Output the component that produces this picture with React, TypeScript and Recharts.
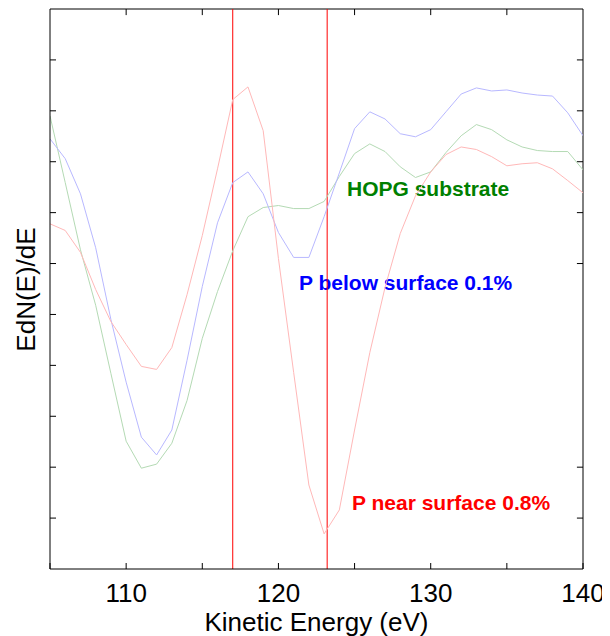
import React from 'react';
import { LineChart, Line, XAxis, YAxis, ReferenceLine, Customized } from 'recharts';

const energy = [105, 106, 107, 108, 109, 110, 111, 112, 113, 114, 115, 116, 117, 118, 119, 120, 121, 122, 123, 124, 125, 126, 127, 128, 129, 130, 131, 132, 133, 134, 135, 136, 137, 138, 139, 140];

const hopg = [8.9, 7.59, 6.27, 5.18, 3.84, 2.51, 1.98, 2.06, 2.47, 3.31, 4.53, 5.45, 6.25, 6.92, 7.1, 7.14, 7.08, 7.08, 7.22, 7.71, 8.16, 8.35, 8.2, 7.9, 7.69, 7.8, 8.18, 8.51, 8.73, 8.63, 8.43, 8.29, 8.22, 8.2, 8.2, 7.84];

const below = [8.45, 8.06, 7.37, 6.31, 4.9, 3.67, 2.59, 2.24, 2.73, 4.1, 5.55, 6.8, 7.59, 7.8, 7.37, 6.61, 6.12, 6.12, 6.92, 7.78, 8.65, 8.98, 8.84, 8.55, 8.49, 8.63, 8.98, 9.33, 9.45, 9.39, 9.41, 9.35, 9.31, 9.29, 8.96, 8.51];

const near = [6.78, 6.65, 6.22, 5.49, 4.86, 4.41, 3.98, 3.92, 4.35, 5.39, 6.55, 7.86, 9.22, 9.47, 8.61, 6.1, 3.86, 1.65, 0.69, 1.16, 2.73, 4.25, 5.53, 6.59, 7.33, 7.8, 8.14, 8.29, 8.24, 8.1, 7.92, 7.96, 7.98, 7.86, 7.63, 7.39];

const X_MIN = 105;
const X_MAX = 140;
const Y_MIN = 0;
const Y_MAX = 11;
const xTicks = [105, 110, 115, 120, 125, 130, 135, 140];
const xLabels = [110, 120, 130, 140];
const yTicksLeft = [1, 2, 3, 4, 5, 6, 7, 8, 9, 10];
const topTicks = [110, 115, 120, 125, 130, 135];
const yTicksRight = [1, 2, 6, 7, 8, 9, 10];
const markers = [117, 123.2];

// tick mark lengths expressed in axis units
const X_TICK_LEN = 0.4;
const Y_TICK_LEN = 0.12;

const data = energy.map((e, i) => ({ e, hopg: hopg[i], below: below[i], near: near[i] }));

const FONT = '"Liberation Sans", Arial, sans-serif';

const BottomTick = (props: any) => {
  const { x, y, payload } = props;
  const v = payload.value;
  return (
    <g>
      <line x1={x} y1={y} x2={x} y2={y - 6} stroke="#000" strokeWidth={1} />
      {xLabels.includes(v) && (
        <text x={x} y={y + 32.5} textAnchor="middle" fontSize={26} fontFamily={FONT} fill="#000">
          {v}
        </text>
      )}
    </g>
  );
};

const LeftTick = (props: any) => {
  const { x, y } = props;
  return <line x1={x} y1={y} x2={x + 6} y2={y} stroke="#000" strokeWidth={1} />;
};

const Annotations = () => (
  <g fontFamily={FONT}>
    <text x={339} y={188} fontSize={21} fontWeight="bold" fill="#008000">HOPG substrate</text>
    <text x={291} y={282} fontSize={21} fontWeight="bold" fill="#0000ff">P below surface 0.1%</text>
    <text x={344} y={501.5} fontSize={21} fontWeight="bold" fill="#ff0000">P near surface 0.8%</text>
    <text x={26.5} y={281.5} fontSize={26} textAnchor="middle" fill="#000" transform="rotate(-90 26.5 281.5)">EdN(E)/dE</text>
    <text x={308.5} y={622.5} fontSize={26} textAnchor="middle" fill="#000">Kinetic Energy (eV)</text>
  </g>
);

export default function App() {
  return (
    <LineChart width={602} height={628} data={data} margin={{ top: 1, right: 27, left: 0, bottom: 0 }}>
      <XAxis
        dataKey="e"
        type="number"
        domain={[X_MIN, X_MAX]}
        ticks={xTicks}
        interval={0}
        height={67}
        tickSize={0}
        tickMargin={0}
        tickLine={false}
        axisLine={{ stroke: '#000', strokeWidth: 1 }}
        tick={<BottomTick />}
        allowDataOverflow
      />
      <YAxis
        type="number"
        domain={[Y_MIN, Y_MAX]}
        ticks={yTicksLeft}
        interval={0}
        width={42}
        tickSize={0}
        tickMargin={0}
        tickLine={false}
        axisLine={{ stroke: '#000', strokeWidth: 1 }}
        tick={<LeftTick />}
        allowDataOverflow
      />
      <ReferenceLine y={Y_MAX} stroke="#000" strokeWidth={1} />
      <ReferenceLine x={X_MAX} stroke="#000" strokeWidth={1} />
      {topTicks.map((t) => (
        <ReferenceLine
          key={'t' + t}
          segment={[{ x: t, y: Y_MAX }, { x: t, y: Y_MAX - Y_TICK_LEN }]}
          stroke="#000"
          strokeWidth={1}
        />
      ))}
      {yTicksRight.map((t) => (
        <ReferenceLine
          key={'r' + t}
          segment={[{ x: X_MAX, y: t }, { x: X_MAX - X_TICK_LEN, y: t }]}
          stroke="#000"
          strokeWidth={1}
        />
      ))}
      {markers.map((m) => (
        <ReferenceLine key={m} x={m} stroke="#ff0000" strokeWidth={1} />
      ))}
      <Line dataKey="hopg" type="linear" stroke="#b4dab4" strokeWidth={1} dot={false} isAnimationActive={false} />
      <Line dataKey="below" type="linear" stroke="#b8b8ff" strokeWidth={1} dot={false} isAnimationActive={false} />
      <Line dataKey="near" type="linear" stroke="#ffb8b8" strokeWidth={1} dot={false} isAnimationActive={false} />
      <Customized component={Annotations} />
    </LineChart>
  );
}
